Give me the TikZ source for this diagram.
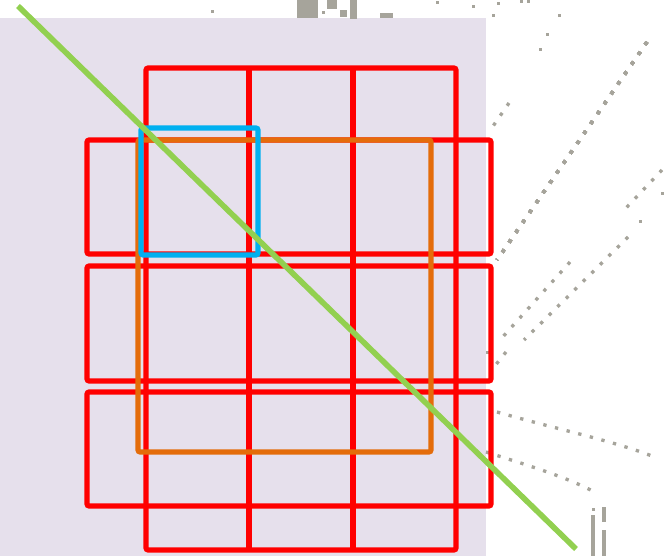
\documentclass[tikz,border=0pt]{standalone}
\usepackage{tikz}
\usetikzlibrary{positioning}
\usepackage{xcolor}
\definecolor{PlotLavender}{HTML}{E6E0EC}
\definecolor{PlotRed}{HTML}{FF0000}
\definecolor{PlotOrange}{HTML}{E46C0A}
\definecolor{PlotCyan}{HTML}{00B0F0}
\definecolor{PlotGreen}{HTML}{92D050}
\definecolor{PlotGray}{HTML}{A6A49B}
\tikzset{
  redgrid/.style={draw=PlotRed,line width=3.8pt,rounded corners=1.5pt},
  orangebox/.style={draw=PlotOrange,line width=3.8pt,rounded corners=1.5pt},
  cyanbox/.style={draw=PlotCyan,line width=3.8pt,rounded corners=1.5pt},
  diagline/.style={draw=PlotGreen,line width=4.2pt},
  streak/.style={draw=PlotGray,line width=2.5pt,dash pattern=on 2.5pt off 6.5pt},
  barstreak/.style={draw=PlotGray,line width=2.4pt},
  pixdot/.style={fill=PlotGray}
}
\newcommand{\pix}[2]{\fill[pixdot] (#1-1.5,#2-1.5) rectangle ++(3,3);}
\begin{document}
\begin{tikzpicture}[x=0.75pt,y=-0.75pt]
  \useasboundingbox (0,0) rectangle (667,556);
  % background panel
  \fill[PlotLavender] (0,18) rectangle (486,556);
  % gray sparse pattern
  \fill[pixdot] (297,0) rectangle (318,18);
  \fill[pixdot] (327,0) rectangle (337,9);
  \fill[pixdot] (350,0) rectangle (357,19);
  \fill[pixdot] (340,10) rectangle (347,17);
  \fill[pixdot] (380,13) rectangle (393,18);
  \foreach \px/\py in {212/12,323/13,437/3,473/7,498/4,521/2,528/2,493/16,559/16,547/35,540/50,487/352,640/221,662/193}
    \pix{\px}{\py}
  \draw[streak] (647,42) -- (497,260);
  \draw[streak] (509,103) -- (489,132);
  \draw[streak] (662,170) -- (626,208);
  \draw[streak] (628,237) -- (524,340);
  \draw[streak] (570,262) -- (500,340);
  \draw[streak] (506,352) -- (494,367);
  \draw[streak] (497,412) .. controls (560,430) and (610,440) .. (652,456);
  \draw[streak] (486,452) .. controls (530,466) and (570,478) .. (598,494);
  \draw[barstreak] (593,515) -- (593,556);
  \pix{593}{509}
  \draw[barstreak] (604,507) -- (604,522);
  \draw[barstreak] (604,530) -- (604,556);
  % red grid
  \draw[redgrid] (146,68) rectangle (456,550);
  \foreach \cx in {249,353}
    \draw[redgrid] (\cx,68) -- (\cx,550);
  \foreach \ry/\rb in {140/254,266/381,392/506}
    \draw[redgrid] (87,\ry) rectangle (491,\rb);
  % orange and cyan boxes
  \draw[orangebox] (138,140) rectangle (431,452);
  \draw[cyanbox] (141,128) rectangle (258,255);
  % diagonal
  \coordinate (diagstart) at (18,6);
  \coordinate (diagend) at (576,549);
  \draw[diagline] (diagstart) -- (diagend);
\end{tikzpicture}
\end{document}
